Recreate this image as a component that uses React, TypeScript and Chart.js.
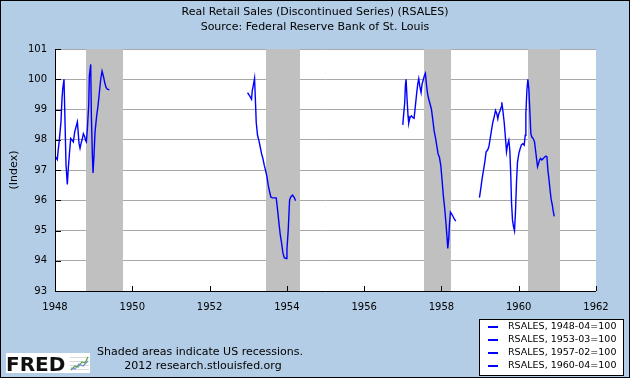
import React, { useEffect, useRef } from 'react';
import { Chart, registerables } from 'chart.js';

Chart.register(...registerables);

// ---------- data ----------
const titleLines = ['Real Retail Sales (Discontinued Series) (RSALES)', 'Source: Federal Reserve Bank of St. Louis'];
const yAxisTitle = '(Index)';
const footnoteLines = ['Shaded areas indicate US recessions.', '2012 research.stlouisfed.org'];
const seriesLabels = ['RSALES, 1948-04=100', 'RSALES, 1953-03=100', 'RSALES, 1957-02=100', 'RSALES, 1960-04=100'];

const xTickValues = [1948, 1950, 1952, 1954, 1956, 1958, 1960, 1962];
const yTickValues = [93, 94, 95, 96, 97, 98, 99, 100, 101];

// recessions (decimal years)
const recessionStarts = [1948.8, 1953.47, 1957.56, 1960.23];
const recessionEnds = [1949.75, 1954.35, 1958.25, 1961.08];

const s1Dates = [1948.0, 1948.03, 1948.06, 1948.078, 1948.112, 1948.155, 1948.181, 1948.199, 1948.233, 1948.259, 1948.285, 1948.319, 1948.345, 1948.371, 1948.406, 1948.44, 1948.475, 1948.51, 1948.544, 1948.579, 1948.596, 1948.622, 1948.648, 1948.674, 1948.699, 1948.734, 1948.769, 1948.786, 1948.812, 1948.838, 1948.872, 1948.889, 1948.924, 1948.941, 1948.967, 1948.984, 1949.01, 1949.036, 1949.079, 1949.114, 1949.149, 1949.183, 1949.218, 1949.252, 1949.287, 1949.321, 1949.356, 1949.408];
const s1Values = [97.5, 97.39, 97.34, 97.6, 97.99, 98.6, 99.35, 99.67, 100.0, 98.6, 97.17, 96.52, 97.07, 97.5, 98.04, 97.99, 97.93, 98.26, 98.42, 98.59, 98.32, 97.88, 97.72, 97.88, 97.99, 98.2, 98.1, 97.99, 97.93, 98.37, 99.13, 100.1, 100.49, 98.8, 97.5, 96.9, 97.5, 98.26, 98.8, 99.13, 99.57, 100.0, 100.27, 100.1, 99.89, 99.73, 99.67, 99.65];

const s2Dates = [1952.983, 1953.017, 1953.052, 1953.086, 1953.104, 1953.138, 1953.164, 1953.19, 1953.207, 1953.242, 1953.276, 1953.311, 1953.345, 1953.38, 1953.415, 1953.449, 1953.484, 1953.518, 1953.553, 1953.587, 1953.639, 1953.691, 1953.725, 1953.76, 1953.795, 1953.829, 1953.863, 1953.898, 1953.933, 1953.984, 1954.002, 1954.036, 1954.071, 1954.105, 1954.148, 1954.192, 1954.226];
const s2Values = [99.56, 99.49, 99.42, 99.34, 99.62, 99.84, 100.03, 99.18, 98.58, 98.14, 97.98, 97.76, 97.54, 97.38, 97.16, 96.99, 96.78, 96.5, 96.28, 96.1, 96.08, 96.08, 96.08, 95.68, 95.25, 94.86, 94.59, 94.26, 94.1, 94.07, 94.37, 95.03, 96.01, 96.12, 96.17, 96.09, 95.98];

const s3Dates = [1957.0, 1957.016, 1957.05, 1957.067, 1957.085, 1957.111, 1957.136, 1957.154, 1957.188, 1957.223, 1957.257, 1957.292, 1957.326, 1957.361, 1957.387, 1957.413, 1957.439, 1957.473, 1957.499, 1957.534, 1957.568, 1957.585, 1957.611, 1957.637, 1957.672, 1957.706, 1957.741, 1957.775, 1957.81, 1957.845, 1957.879, 1957.914, 1957.948, 1957.983, 1958.017, 1958.052, 1958.086, 1958.121, 1958.147, 1958.164, 1958.19, 1958.207, 1958.233, 1958.259, 1958.294, 1958.328, 1958.371];
const s3Values = [98.49, 98.74, 99.23, 99.78, 100.0, 99.34, 98.79, 98.55, 98.74, 98.79, 98.74, 98.71, 99.12, 99.56, 99.84, 100.02, 99.78, 99.56, 99.84, 100.0, 100.16, 100.2, 99.84, 99.56, 99.34, 99.18, 99.01, 98.68, 98.3, 98.08, 97.81, 97.53, 97.42, 97.15, 96.66, 96.11, 95.72, 95.18, 94.74, 94.41, 94.74, 95.18, 95.61, 95.56, 95.48, 95.39, 95.31];

const s4Dates = [1958.984, 1959.019, 1959.054, 1959.088, 1959.123, 1959.157, 1959.192, 1959.226, 1959.261, 1959.295, 1959.33, 1959.364, 1959.399, 1959.433, 1959.459, 1959.485, 1959.52, 1959.546, 1959.563, 1959.589, 1959.624, 1959.658, 1959.684, 1959.71, 1959.744, 1959.77, 1959.796, 1959.813, 1959.839, 1959.865, 1959.891, 1959.917, 1959.943, 1959.969, 1960.003, 1960.038, 1960.073, 1960.107, 1960.142, 1960.168, 1960.185, 1960.211, 1960.237, 1960.263, 1960.288, 1960.314, 1960.34, 1960.375, 1960.409, 1960.435, 1960.461, 1960.487, 1960.513, 1960.539, 1960.565, 1960.599, 1960.634, 1960.668, 1960.703, 1960.729, 1960.755, 1960.789, 1960.815, 1960.841, 1960.867, 1960.893, 1960.919];
const s4Values = [96.09, 96.39, 96.72, 96.99, 97.27, 97.6, 97.65, 97.76, 98.04, 98.31, 98.58, 98.75, 98.97, 98.86, 98.69, 98.86, 98.97, 99.08, 99.24, 98.97, 98.58, 98.04, 97.6, 97.82, 97.98, 97.65, 96.78, 95.95, 95.35, 95.13, 94.99, 95.63, 96.61, 97.27, 97.54, 97.71, 97.84, 97.87, 97.82, 98.15, 98.85, 99.62, 100.0, 99.67, 98.96, 98.2, 98.09, 98.04, 97.93, 97.66, 97.38, 97.11, 97.22, 97.33, 97.38, 97.33, 97.38, 97.42, 97.46, 97.44, 97.0, 96.62, 96.29, 96.02, 95.86, 95.64, 95.47];

// ---------- styles ----------
const BG = '#b4cde6';
const LINE_BLUE = '#0000ff';
const FONT = 'DejaVu Sans';

const seriesDates = [s1Dates, s2Dates, s3Dates, s4Dates];
const seriesValues = [s1Values, s2Values, s3Values, s4Values];

const fredPlugin = {
  id: 'fredDecor',
  beforeDraw(chart: any) {
    const { ctx, chartArea: a, width, height } = chart;
    ctx.save();
    ctx.fillStyle = BG;
    ctx.fillRect(0, 0, width, height);
    ctx.fillStyle = '#ffffff';
    ctx.fillRect(a.left, a.top, a.right - a.left, a.bottom - a.top);
    ctx.restore();
  },
  beforeDatasetsDraw(chart: any) {
    const { ctx, chartArea: a } = chart;
    const xs = chart.scales.x;
    ctx.save();
    ctx.fillStyle = '#c0c0c0';
    recessionStarts.forEach((s, i) => {
      const x0 = xs.getPixelForValue(s);
      const x1 = xs.getPixelForValue(recessionEnds[i]);
      ctx.fillRect(Math.round(x0), a.top, Math.round(x1) - Math.round(x0), a.bottom - a.top);
    });
    ctx.restore();
  },
  afterDraw(chart: any) {
    const { ctx, chartArea: a, width, height } = chart;
    const xs = chart.scales.x;
    const ys = chart.scales.y;
    ctx.save();
    // axes
    ctx.strokeStyle = '#000';
    ctx.lineWidth = 1;
    ctx.beginPath();
    ctx.moveTo(a.left + 0.5, a.top);
    ctx.lineTo(a.left + 0.5, a.bottom + 0.5);
    ctx.lineTo(a.right, a.bottom + 0.5);
    yTickValues.forEach((v) => {
      const py = Math.round(ys.getPixelForValue(v)) + 0.5;
      ctx.moveTo(a.left, py);
      ctx.lineTo(a.left + 6, py);
    });
    xTickValues.forEach((v) => {
      const px = Math.round(xs.getPixelForValue(v)) + 0.5;
      ctx.moveTo(px, a.bottom);
      ctx.lineTo(px, a.bottom - 5);
    });
    ctx.stroke();

    // titles
    ctx.fillStyle = '#000';
    ctx.textAlign = 'center';
    ctx.textBaseline = 'middle';
    ctx.font = `11px "${FONT}"`;
    ctx.fillText(titleLines[0], width / 2, 12);
    ctx.fillText(titleLines[1], width / 2, 27);

    // y title
    ctx.save();
    ctx.translate(14, (a.top + a.bottom) / 2);
    ctx.rotate(-Math.PI / 2);
    ctx.font = `11px "${FONT}"`;
    ctx.fillText(yAxisTitle, 0, 0);
    ctx.restore();

    // footnote
    ctx.font = `11px "${FONT}"`;
    ctx.textAlign = 'left';
    ctx.fillText(footnoteLines[0], 97, 352);
    ctx.textAlign = 'center';
    ctx.fillText(footnoteLines[1], 203, 366);

    // legend
    const lx = 479, ly = 319, lw = 144, lh = 56;
    ctx.fillStyle = '#fff';
    ctx.fillRect(lx, ly, lw, lh);
    ctx.strokeStyle = '#000';
    ctx.lineWidth = 1;
    ctx.strokeRect(lx + 0.5, ly + 0.5, lw, lh);
    ctx.font = `9.5px "${FONT}"`;
    ctx.textAlign = 'left';
    seriesLabels.forEach((lab, i) => {
      const ry = 326.5 + i * 13;
      ctx.fillStyle = LINE_BLUE;
      ctx.fillRect(488, Math.round(ry) - 1, 10, 2);
      ctx.fillStyle = '#000';
      ctx.fillText(lab, 508, ry);
    });

    // FRED logo
    ctx.fillStyle = '#fff';
    ctx.fillRect(6, 353, 84, 20);
    ctx.fillStyle = '#111';
    ctx.font = `bold 20px "${FONT}"`;
    ctx.textAlign = 'left';
    ctx.textBaseline = 'alphabetic';
    ctx.fillText('FRED', 6, 371);
    // small chart icon
    ctx.strokeStyle = '#d8d8d8';
    ctx.lineWidth = 1;
    ctx.beginPath();
    for (let i = 0; i < 4; i++) {
      ctx.moveTo(70, 357.5 + i * 4);
      ctx.lineTo(89, 357.5 + i * 4);
    }
    ctx.stroke();
    ctx.strokeStyle = '#5aa33c';
    ctx.lineWidth = 1.2;
    ctx.beginPath();
    ctx.moveTo(71, 370); ctx.lineTo(75, 366); ctx.lineTo(78, 367); ctx.lineTo(82, 362); ctx.lineTo(85, 363); ctx.lineTo(88, 357);
    ctx.stroke();
    ctx.strokeStyle = '#6f8fcf';
    ctx.beginPath();
    ctx.moveTo(71, 368); ctx.lineTo(75, 369); ctx.lineTo(79, 364); ctx.lineTo(83, 366); ctx.lineTo(88, 361);
    ctx.stroke();

    // outer border
    ctx.strokeStyle = '#000';
    ctx.lineWidth = 1;
    ctx.strokeRect(0.5, 0.5, width - 1, height - 1);
    ctx.restore();
  },
};

export default function App() {
  const canvasRef = useRef<HTMLCanvasElement | null>(null);

  useEffect(() => {
    const canvas = canvasRef.current;
    if (!canvas) return;
    const datasets = seriesLabels.map((label, i) => ({
      label,
      data: seriesDates[i].map((d, j) => ({ x: d, y: seriesValues[i][j] })),
      borderColor: LINE_BLUE,
      backgroundColor: LINE_BLUE,
      borderWidth: 1.4,
      pointRadius: 0,
      tension: 0,
      fill: false,
    }));
    const chart = new Chart(canvas, {
      type: 'line',
      data: { datasets },
      options: {
        animation: false,
        responsive: false,
        maintainAspectRatio: false,
        devicePixelRatio: 1,
        layout: { padding: { left: 0, top: 49, right: 34, bottom: 0 } },
        plugins: {
          legend: { display: false },
          title: { display: false },
          tooltip: { enabled: false },
        },
        scales: {
          x: {
            type: 'linear',
            min: 1948,
            max: 1962,
            afterBuildTicks: (scale: any) => {
              scale.ticks = xTickValues.map((v) => ({ value: v }));
            },
            ticks: {
              callback: (v: any) => String(v),
              color: '#000',
              font: { family: FONT, size: 10 },
              padding: 10,
              maxRotation: 0,
              autoSkip: false,
            },
            grid: { display: false, drawTicks: false },
            border: { display: false },
            afterFit: (scale: any) => {
              scale.height = 87;
            },
          },
          y: {
            min: 93,
            max: 101,
            afterBuildTicks: (scale: any) => {
              scale.ticks = yTickValues.map((v) => ({ value: v }));
            },
            ticks: {
              callback: (v: any) => String(v),
              color: '#000',
              font: { family: FONT, size: 10 },
              padding: 8,
            },
            grid: { color: '#a8a8a8', lineWidth: 1, drawTicks: false },
            border: { display: false },
            afterFit: (scale: any) => {
              scale.width = 55;
            },
          },
        },
      },
      plugins: [fredPlugin],
    });
    return () => chart.destroy();
  }, []);

  return (
    <div style={{ position: 'absolute', left: 0, top: 0, width: 630, height: 378 }}>
      <canvas ref={canvasRef} width={630} height={378} style={{ width: 630, height: 378, display: 'block' }} />
    </div>
  );
}
